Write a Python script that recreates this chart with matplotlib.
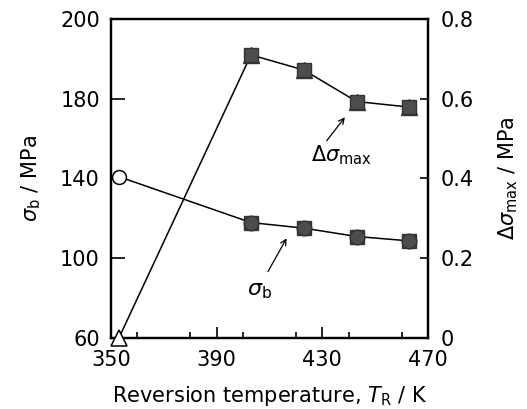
import matplotlib

matplotlib.use("Agg")
import matplotlib.pyplot as plt
from matplotlib.ticker import MultipleLocator

# reversion temperature, K
temp = [353, 403, 423, 443, 463]
# sigma_b on left axis (MPa); top label of the printed axis reads 200
sigma_b = [140.9, 117.9, 115.1, 110.9, 108.7]
# delta sigma max on right axis (MPa)
dsig_max = [0.0, 0.710, 0.672, 0.593, 0.579]

left_ticks = [60, 100, 140, 180, 220]
left_labels = ["60", "100", "140", "180", "200"]
right_ticks = [0, 0.2, 0.4, 0.6, 0.8]
right_labels = ["0", "0.2", "0.4", "0.6", "0.8"]
x_ticks = [350, 390, 430, 470]

FILL = "#4d4d4d"

plt.rcParams["font.family"] = "DejaVu Sans"
plt.rcParams["mathtext.fontset"] = "dejavusans"

fig = plt.figure(figsize=(5.27, 4.09), dpi=100)
ax = fig.add_axes([0.2106, 0.1736, 0.6015, 0.78])
ax2 = ax.twinx()

# sigma_b: open circle at first point, filled circle+square after
ax.plot(temp, sigma_b, color="black", lw=1.1, zorder=2)
ax.plot(temp[:1], sigma_b[:1], "o", ms=10, mfc="white", mec="black", mew=1.1, zorder=3)
ax.plot(temp[1:], sigma_b[1:], "s", ms=9.5, mfc=FILL, mec="#333333", zorder=3)
ax.plot(temp[1:], sigma_b[1:], "o", ms=10.5, mfc=FILL, mec="#333333", zorder=3)

# delta sigma max: open triangle at first point, filled triangle+square after
ax2.plot(temp, dsig_max, color="black", lw=1.1, zorder=2)
ax2.plot(temp[:1], dsig_max[:1], "^", ms=11, mfc="white", mec="black", mew=1.1,
         clip_on=False, zorder=3)
ax2.plot(temp[1:], dsig_max[1:], "^", ms=11, mfc=FILL, mec="#333333", zorder=3)
ax2.plot(temp[1:], dsig_max[1:], "s", ms=10, mfc=FILL, mec="#333333", zorder=3)

ax.set_xlim(350, 470)
ax.set_ylim(60, 220)
ax2.set_ylim(0, 0.8)

ax.set_xticks(x_ticks)
ax.xaxis.set_minor_locator(MultipleLocator(20))
ax.set_yticks(left_ticks)
ax.set_yticklabels(left_labels)
ax2.set_yticks(right_ticks)
ax2.set_yticklabels(right_labels)

ax.tick_params(axis="x", direction="in", length=8, width=1.2, labelsize=15, pad=9)
ax.tick_params(axis="x", which="minor", direction="in", length=4, width=1.2)
ax.tick_params(axis="y", direction="in", length=10, width=1.2, labelsize=15, pad=8)
ax2.tick_params(axis="y", direction="in", length=6, width=1.2, labelsize=15, pad=9)
for a in (ax, ax2):
    for s in a.spines.values():
        s.set_linewidth(1.6)

ax.set_xlabel(r"Reversion temperature, $T_{\rm R}$ / K", fontsize=15, labelpad=10)
ax.set_ylabel(r"$\sigma_{\rm b}$ / MPa", fontsize=15, labelpad=12)
ax2.set_ylabel(r"$\Delta\sigma_{\rm max}$ / MPa", fontsize=15, labelpad=16)

# callouts
ax2.annotate("", xy=(439.2, 0.559), xytext=(431, 0.489),
             arrowprops=dict(arrowstyle="->", lw=0.9, color="black"))
ax2.text(437.3, 0.459, r"$\Delta\sigma_{\rm max}$", fontsize=15, ha="center", va="center")
ax.annotate("", xy=(417, 111.2), xytext=(408.9, 92.1),
            arrowprops=dict(arrowstyle="->", lw=0.9, color="black"))
ax.text(406.4, 83.6, r"$\sigma_{\rm b}$", fontsize=16, ha="center", va="center")

fig.savefig("out.png", dpi=100)
